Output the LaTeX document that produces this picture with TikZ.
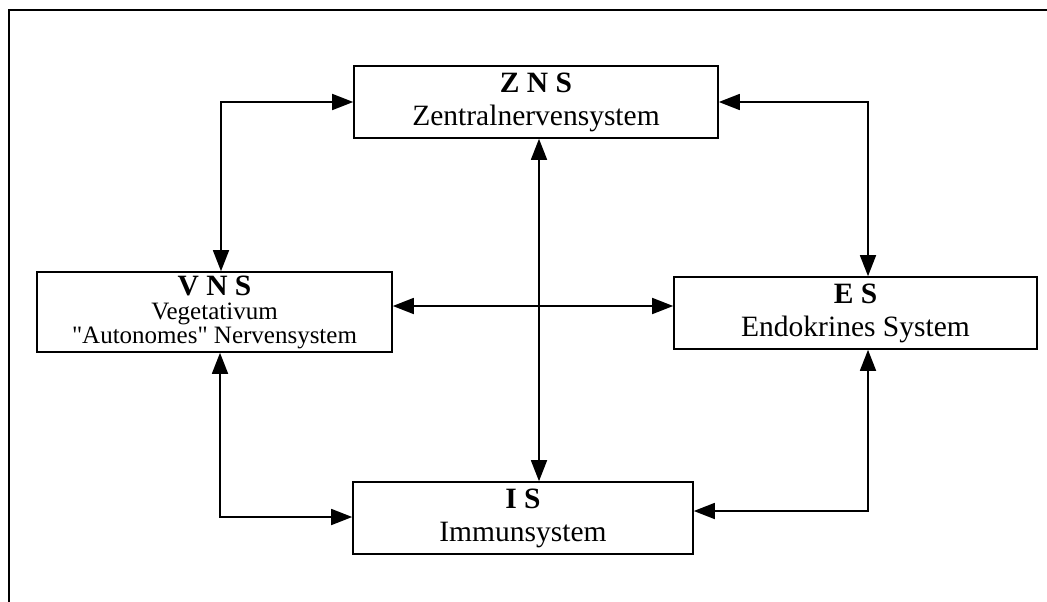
\documentclass[tikz,border=0pt]{standalone}
\usepackage{fontspec}
\setmainfont{Liberation Serif}[Ligatures=TeXOff]
\usetikzlibrary{arrows.meta}
\begin{document}
\begin{tikzpicture}[x=1pt,y=-1pt,
  box/.style={draw,line width=1.6pt,rectangle,inner sep=0pt,align=center,
    font=\fontsize{29.5}{33}\selectfont},
  link/.style={line width=1.6pt,{Triangle[length=21pt,width=16pt]}-{Triangle[length=21pt,width=16pt]}}]
\useasboundingbox (0,0) rectangle (1047,602);
\draw[line width=1.8pt] (9,602) -- (9,10) -- (1047,10);

\node[box,minimum width=364pt,minimum height=72pt] (zns) at (536,102)
  {\textbf{Z N S}\\Zentralnervensystem};
\node[box,minimum width=355pt,minimum height=80pt] (vns) at (214.5,312)
  {\textbf{V N S}\\[-9pt]{\fontsize{25}{24}\selectfont Vegetativum}\\[-9pt]{\fontsize{25}{24}\selectfont "Autonomes" Nervensystem}};
\node[box,minimum width=363pt,minimum height=72pt] (es) at (855.5,313)
  {\textbf{E S}\\Endokrines System};
\node[box,minimum width=340pt,minimum height=72pt] (is) at (523,518)
  {\textbf{I S}\\Immunsystem};

\coordinate (c1) at (221,102);
\coordinate (c2) at (868,102);
\coordinate (m) at (539,306);
\coordinate (c4) at (220,517);
\coordinate (c5) at (868,511);

\draw[link] (c1 |- vns.north) -- (c1) -- (zns.west |- c1);
\draw[link] (zns.east |- c2) -- (c2) -- (c2 |- es.north);
\draw[link] (m |- zns.south) -- (m |- is.north);
\draw[link] (vns.east |- m) -- (es.west |- m);
\draw[link] (c4 |- vns.south) -- (c4) -- (is.west |- c4);
\draw[link] (c5 |- es.south) -- (c5) -- (is.east |- c5);
\end{tikzpicture}
\end{document}
